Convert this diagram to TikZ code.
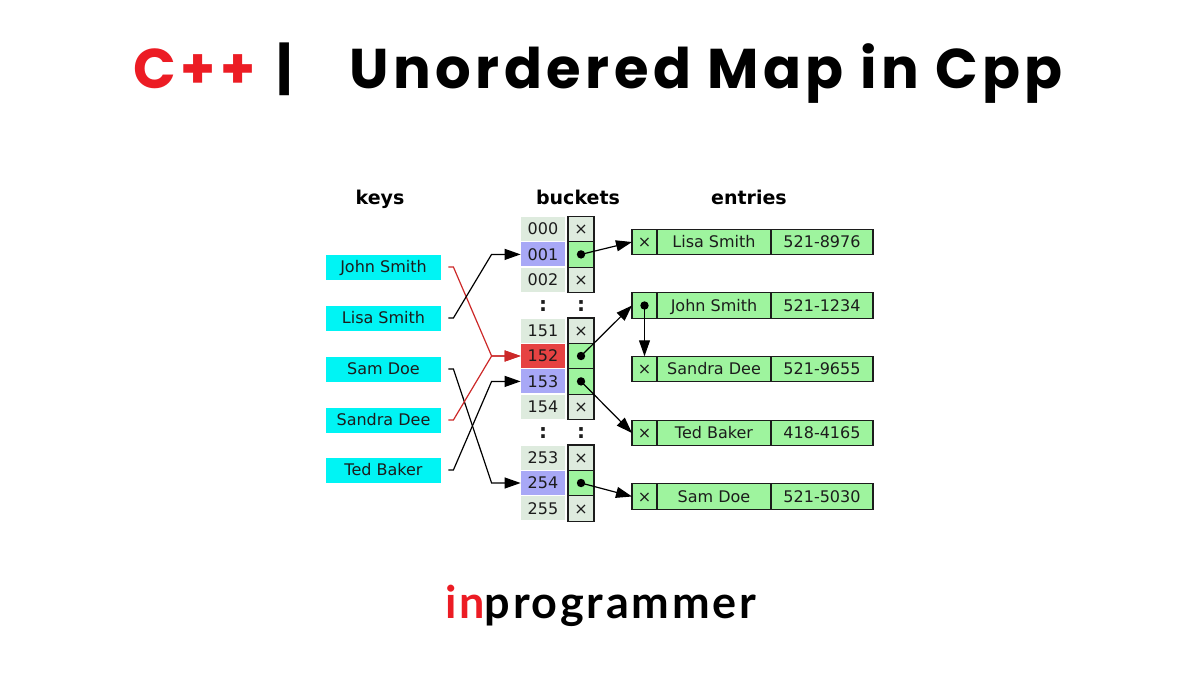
\documentclass[tikz,border=0pt]{standalone}
\usepackage{fontspec}
\setmainfont{DejaVu Sans}
\newfontfamily\titlefont{Poppins}[LetterSpace=8]
\newfontfamily\brandfont{Lato}[LetterSpace=6]
\usetikzlibrary{arrows.meta,positioning}
\definecolor{brandred}{RGB}{236,28,36}
\definecolor{keycyan}{RGB}{0,244,244}
\definecolor{cellgrey}{RGB}{222,235,222}
\definecolor{cellblue}{RGB}{168,168,246}
\definecolor{cellred}{RGB}{230,66,66}
\definecolor{cellgreen}{RGB}{158,244,158}
\definecolor{ink}{RGB}{28,28,28}
\definecolor{linkred}{RGB}{204,40,40}
\tikzset{l/.style={font=\fontsize{8}{8}\selectfont, text=ink, text height=5.9pt, text depth=0pt}}
\tikzset{h/.style={font=\bfseries\fontsize{9.5}{9.5}\selectfont, anchor=base}}
\tikzset{t/.style={font=\titlefont\bfseries\fontsize{28}{28}\selectfont, inner sep=0pt}}
\tikzset{key/.style={l, fill=keycyan, minimum width=57.5pt, minimum height=12.5pt, inner sep=0pt}}
\tikzset{idx/.style={l, fill=cellgrey, minimum width=22pt, minimum height=12pt, inner sep=0pt}}
\tikzset{ptr/.style={l, draw=ink, line width=0.6pt, fill=cellgrey, minimum width=13pt, minimum height=12.7pt, inner sep=0pt, outer sep=0pt}}
\tikzset{ent/.style={l, draw=ink, line width=0.6pt, fill=cellgreen, minimum height=12.75pt, inner sep=0pt, outer sep=0pt}}
\tikzset{dot/.style={circle, fill=black, inner sep=0pt, minimum size=4.2pt}}
\tikzset{link/.style={->, line width=0.6pt}}
\begin{document}
\begin{tikzpicture}[x=0.5pt, y=-0.5pt, >={Triangle[length=8pt, width=5.5pt]}]
    \useasboundingbox (0,0) rectangle (1200,675);
    % title
    \node[t, text=brandred, anchor=base west] (cpp) at (133,88) {C++};
    \node[t, anchor=base] (bar) at (285,88) {|};
    \node[t, anchor=base west] (title) at (349,88) {Unordered Map in Cpp};
    \node[font=\brandfont\bfseries\fontsize{22.5}{22.5}\selectfont, inner sep=0pt, anchor=base west] (brand) at (445,618) {\textcolor{brandred}{in}programmer};
    % headers
    \node[h] (keys) at (380,204) {keys};
    \node[h] (buckets) at (578,204) {buckets};
    \node[h] (entries) at (749,204) {entries};
    % keys
    \node[key] (kJohn) at (383.5,267) {John Smith};
    \node[key] (kLisa) at (383.5,318) {Lisa Smith};
    \node[key] (kSam) at (383.5,369) {Sam Doe};
    \node[key] (kSandra) at (383.5,420) {Sandra Dee};
    \node[key] (kTed) at (383.5,470) {Ted Baker};
    % buckets
    \node[idx] (i000) at (543,229) {000};
    \node[idx, fill=cellblue] (i001) at (543,254.4) {001};
    \node[idx] (i002) at (543,279.8) {002};
    \node[l, font=\bfseries] (c1) at (543,305.2) {:};
    \node[idx] (i151) at (543,330.6) {151};
    \node[idx, fill=cellred] (i152) at (543,356) {152};
    \node[idx, fill=cellblue] (i153) at (543,381.4) {153};
    \node[idx] (i154) at (543,406.8) {154};
    \node[l, font=\bfseries] (c2) at (543,432.2) {:};
    \node[idx] (i253) at (543,457.6) {253};
    \node[idx, fill=cellblue] (i254) at (543,483) {254};
    \node[idx] (i255) at (543,508.4) {255};
    \node[ptr] (p000) at (581,229) {×};
    \node[ptr, fill=cellgreen] (p001) at (581,254.4) {};
    \node[ptr] (p002) at (581,279.8) {×};
    \node[l, font=\bfseries] (c3) at (581,305.2) {:};
    \node[ptr] (p151) at (581,330.6) {×};
    \node[ptr, fill=cellgreen] (p152) at (581,356) {};
    \node[ptr, fill=cellgreen] (p153) at (581,381.4) {};
    \node[ptr] (p154) at (581,406.8) {×};
    \node[l, font=\bfseries] (c4) at (581,432.2) {:};
    \node[ptr] (p253) at (581,457.6) {×};
    \node[ptr, fill=cellgreen] (p254) at (581,483) {};
    \node[ptr] (p255) at (581,508.4) {×};
    \node[dot] (d001) at (p001) {};
    \node[dot] (d152) at (p152) {};
    \node[dot] (d153) at (p153) {};
    \node[dot] (d254) at (p254) {};
    % entries
    \node[ent, minimum width=12.5pt] (eLisa) at (644.5,242) {×};
    \node[ent, minimum width=57pt, right=0pt of eLisa] (eLisaN) {Lisa Smith};
    \node[ent, minimum width=51pt, right=0pt of eLisaN] (eLisaT) {521-8976};
    \node[ent, minimum width=12.5pt] (eJohn) at (644.5,305.5) {};
    \node[ent, minimum width=57pt, right=0pt of eJohn] (eJohnN) {John Smith};
    \node[ent, minimum width=51pt, right=0pt of eJohnN] (eJohnT) {521-1234};
    \node[dot] (dJohn) at (eJohn) {};
    \node[ent, minimum width=12.5pt] (eSandra) at (644.5,369) {×};
    \node[ent, minimum width=57pt, right=0pt of eSandra] (eSandraN) {Sandra Dee};
    \node[ent, minimum width=51pt, right=0pt of eSandraN] (eSandraT) {521-9655};
    \node[ent, minimum width=12.5pt] (eTed) at (644.5,433) {×};
    \node[ent, minimum width=57pt, right=0pt of eTed] (eTedN) {Ted Baker};
    \node[ent, minimum width=51pt, right=0pt of eTedN] (eTedT) {418-4165};
    \node[ent, minimum width=12.5pt] (eSam) at (644.5,496.5) {×};
    \node[ent, minimum width=57pt, right=0pt of eSam] (eSamN) {Sam Doe};
    \node[ent, minimum width=51pt, right=0pt of eSamN] (eSamT) {521-5030};
    % keys to buckets
    \draw[link, linkred] ([xshift=3.5pt]kJohn.east) -- ++(5,0) -- ([xshift=-14.5pt]i152.west) -- (i152.west);
    \draw[link] ([xshift=3.5pt]kLisa.east) -- ++(5,0) -- ([xshift=-14.5pt]i001.west) -- (i001.west);
    \draw[link] ([xshift=3.5pt]kSam.east) -- ++(5,0) -- ([xshift=-14.5pt]i254.west) -- (i254.west);
    \draw[link, linkred] ([xshift=3.5pt]kSandra.east) -- ++(5,0) -- ([xshift=-14.5pt]i152.west) -- (i152.west);
    \draw[link] ([xshift=3.5pt]kTed.east) -- ++(5,0) -- ([xshift=-14.5pt]i153.west) -- (i153.west);
    % buckets to entries
    \draw[link] (d001.center) -- (eLisa.west);
    \draw[link] (d152.center) -- (eJohn.west);
    \draw[link] (d153.center) -- (eTed.west);
    \draw[link] (d254.center) -- (eSam.west);
    \draw[link] (dJohn.center) -- (eSandra.north);
\end{tikzpicture}
\end{document}
